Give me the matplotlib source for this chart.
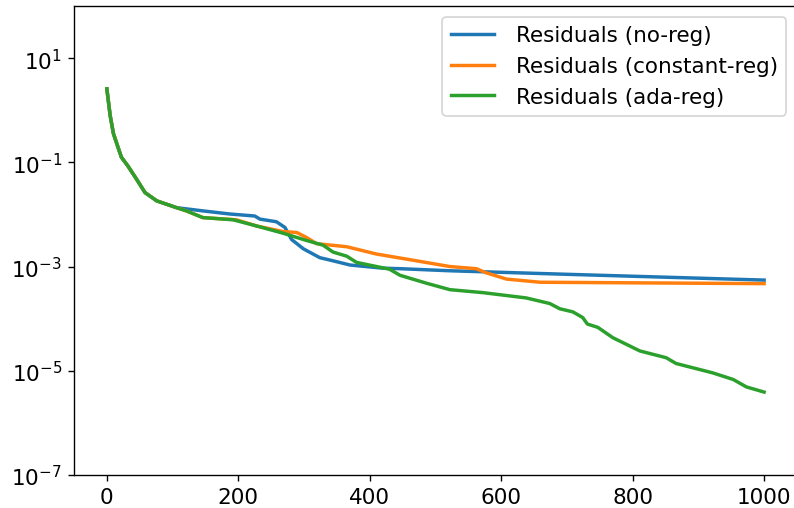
import matplotlib
matplotlib.use("Agg")
import matplotlib.pyplot as plt

# shared start of all three runs
x_start = [0, 5, 10, 22, 32, 45, 58, 76, 106]
r_start = [2.57, 0.794, 0.355, 0.126, 0.0851, 0.0479, 0.0263, 0.0182, 0.0135]

# no-reg
x_noreg = [146, 187, 225, 233, 258, 271, 281, 299, 324, 344, 370, 420, 446, 522, 700, 1000]
r_noreg = [0.0117, 0.0102, 0.00933, 0.00813, 0.00724, 0.00562, 0.00331, 0.00219,
           0.00148, 0.00129, 0.00107, 9.3e-4, 9.1e-4, 8.3e-4, 7.1e-4, 5.5e-4]

# constant-reg
x_const = [121, 146, 197, 228, 268, 289, 304, 319, 365, 410, 471, 522, 562, 577, 608, 659, 1000]
r_const = [0.0117, 0.0087, 0.0079, 0.0060, 0.0047, 0.0045, 0.0036, 0.00275, 0.0024,
           0.00174, 0.00129, 0.0010, 9.1e-4, 7.6e-4, 5.75e-4, 5.0e-4, 4.7e-4]

# ada-reg
x_ada = [121, 146, 192, 228, 268, 304, 329, 344, 365, 380, 430, 446, 486, 522, 572, 638,
         674, 689, 709, 724, 731, 747, 770, 811, 851, 866, 922, 953, 973, 1000]
r_ada = [0.0117, 0.0087, 0.0079, 0.0060, 0.00437, 0.00316, 0.00257, 0.0019, 0.00158,
         0.0012, 8.9e-4, 6.8e-4, 4.8e-4, 3.6e-4, 3.16e-4, 2.5e-4, 1.95e-4, 1.55e-4,
         1.35e-4, 1.05e-4, 7.9e-5, 6.8e-5, 4.3e-5, 2.4e-5, 1.78e-5, 1.38e-5, 9.1e-6,
         6.8e-6, 4.9e-6, 3.9e-6]

labels = ['Residuals (no-reg)', 'Residuals (constant-reg)', 'Residuals (ada-reg)']

plt.rcParams['font.size'] = 12.5
plt.rcParams['lines.linewidth'] = 2

dpi = 124
fig = plt.figure(figsize=(794 / dpi, 509 / dpi), dpi=dpi)
# right spine falls just outside the picture, as in the original crop
ax = fig.add_axes([74 / 794, 33 / 509, 723 / 794, 469 / 509])

ax.semilogy(x_start + x_noreg, r_start + r_noreg, label=labels[0])
ax.semilogy(x_start + x_const, r_start + r_const, label=labels[1])
ax.semilogy(x_start + x_ada, r_start + r_ada, label=labels[2])

ax.set_ylim(1e-7, 1e2)
ax.set_xlim(-50, 1050)
ax.set_yticks([1e1, 1e-1, 1e-3, 1e-5, 1e-7])
ax.minorticks_off()
ax.legend(loc='upper right', handletextpad=1.0)

fig.savefig('out.png', dpi=dpi)
